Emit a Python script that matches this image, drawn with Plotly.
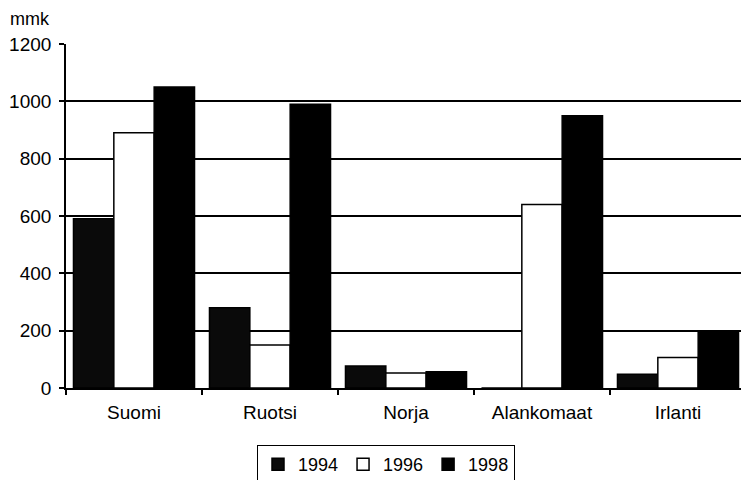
import plotly.graph_objects as go

categories = ["Suomi", "Ruotsi", "Norja", "Alankomaat", "Irlanti"]
v1994 = [590, 280, 77, 0, 48]
v1996 = [890, 150, 52, 640, 106]
v1998 = [1050, 990, 57, 950, 195]

W, H = 741, 472  # page body has an 8px margin

fig = go.Figure()
fig.add_trace(go.Bar(name="1994", x=categories, y=v1994,
                     marker=dict(color="#0a0a0a", line=dict(color="black", width=1.5))))
fig.add_trace(go.Bar(name="1996", x=categories, y=v1996,
                     marker=dict(color="white", line=dict(color="black", width=1.5))))
fig.add_trace(go.Bar(name="1998", x=categories, y=v1998,
                     marker=dict(color="black", line=dict(color="black", width=1.5))))

fig.update_layout(
    width=W, height=H,
    margin=dict(l=58, r=3, t=36, b=92, autoexpand=False),
    barmode="group", bargap=0.11, bargroupgap=0,
    plot_bgcolor="white", paper_bgcolor="white",
    font=dict(family="Liberation Sans, Arial, sans-serif", size=19, color="black"),
    showlegend=True,
    legend=dict(orientation="h", xref="container", yref="container",
                x=378 / W, xanchor="center", y=(H - 437) / H, yanchor="top",
                bordercolor="black", borderwidth=1, font=dict(size=18),
                itemwidth=30, tracegroupgap=0),
    annotations=[dict(text="mmk", xref="paper", yref="paper", x=-0.085, y=1.0,
                      yshift=13, xanchor="left", yanchor="bottom", showarrow=False,
                      font=dict(size=18))],
)
fig.update_yaxes(range=[0, 1200], dtick=200, showgrid=True, gridcolor="black", gridwidth=1.6,
                 showline=True, linecolor="black", linewidth=1.6,
                 ticks="outside", ticklen=5, tickcolor="black", tickwidth=1.5,
                 zeroline=False, ticklabelstandoff=4)
fig.update_xaxes(showline=True, linecolor="black", linewidth=1.6,
                 ticks="outside", ticklen=5, tickcolor="black", tickwidth=1.5,
                 tickson="boundaries", ticklabelstandoff=6)

fig.write_html("out.html")
